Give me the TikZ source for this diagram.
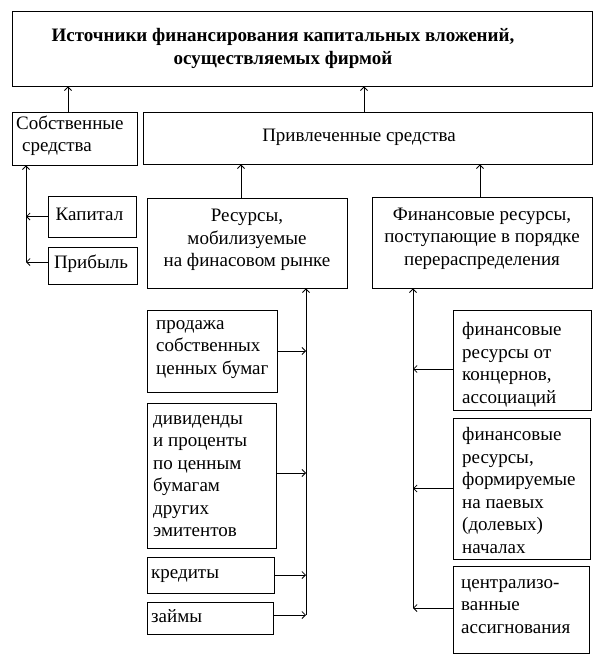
\documentclass[tikz,border=0pt]{standalone}
\usepackage{fontspec}
\setmainfont{Liberation Serif}
\usetikzlibrary{arrows.meta,fit}
\begin{document}
\begin{tikzpicture}[x=1pt,y=-1pt,
  box/.style={draw,line width=0.9pt,inner sep=0pt},
  txt/.style={inner sep=0pt,font=\fontsize{19}{22.5}\selectfont},
  ttl/.style={inner sep=0pt,align=center,font=\bfseries\fontsize{19}{23}\selectfont},
  arr/.style={line width=0.8pt,-{Straight Barb[length=3.5pt,width=7pt]}}]
\useasboundingbox[fill=white] (0,0) rectangle (605,663);
% boxes
\node[box,fit={(12,11) (592,86)}] (title) {};
\node[box,fit={(12,112) (137,165)}] (sob) {};
\node[box,fit={(143,112) (592,164)}] (priv) {};
\node[box,fit={(48,196) (136,237)}] (kap) {};
\node[box,fit={(48,247) (137,284)}] (prib) {};
\node[box,fit={(147,198) (347,288)}] (res) {};
\node[box,fit={(372,197) (592,288)}] (fin) {};
\node[box,fit={(147,310) (277,392)}] (prod) {};
\node[box,fit={(147,403) (276,548)}] (div) {};
\node[box,fit={(147,557) (274,593)}] (kred) {};
\node[box,fit={(147,602) (273,634)}] (zaim) {};
\node[box,fit={(453,310) (591,410)}] (fk) {};
\node[box,fit={(453,418) (590,559)}] (fp) {};
\node[box,fit={(453,566) (589,653)}] (ca) {};
% texts
\node[ttl] (titletxt) at (283,48.5) {Источники финансирования капитальных вложений,\\осуществляемых фирмой};
\node[txt,anchor=west,align=left] (sobtxt) at (16,135.5) {Собственные\\\hspace*{6pt}средства};
\node[txt] (privtxt) at (359,137) {Привлеченные средства};
\node[txt] (kaptxt) at (89.5,214) {Капитал};
\node[txt] (pribtxt) at (91,264) {Прибыль};
\node[txt,align=center] (restxt) at (247,240) {Ресурсы,\\мобилизуемые\\на финасовом рынке};
\node[txt,align=center] (fintxt) at (482,238.5) {Финансовые ресурсы,\\поступающие в порядке\\перераспределения};
\node[txt,anchor=west,align=left] (prodtxt) at (156,349.5) {продажа\\собственных\\ценных бумаг};
\node[txt,anchor=west,align=left] (divtxt) at (153,476) {дивиденды\\и проценты\\по ценным\\бумагам\\других\\эмитентов};
\node[txt,anchor=west] (kredtxt) at (151,576) {кредиты};
\node[txt,anchor=west] (zaimtxt) at (151,616) {займы};
\node[txt,anchor=west,align=left] (fktxt) at (462,364.5) {финансовые\\ресурсы от\\концернов,\\ассоциаций};
\node[txt,anchor=west,align=left] (fptxt) at (462,490.5) {финансовые\\ресурсы,\\формируемые\\на паевых\\(долевых)\\началах};
\node[txt,anchor=west,align=left] (catxt) at (461,606.5) {централизо-\\ванные\\ассигнования};
% connectors
\draw[arr] ([xshift=-6.5pt]sob.north) -- ([xshift=-6.5pt]sob.north |- title.south);
\draw[arr] ([xshift=-3.5pt]priv.north) -- ([xshift=-3.5pt]priv.north |- title.south);
\draw[arr] ([xshift=-6pt]res.north) -- ([xshift=-6pt]res.north |- priv.south);
\draw[arr] ([xshift=-2pt]fin.north) -- ([xshift=-2pt]fin.north |- priv.south);
\coordinate (ls) at (26,262);
\draw[arr] (ls) -- (ls |- sob.south);
\draw[arr] (kap.west) -- (kap.west -| ls);
\draw[arr] ([yshift=3.5pt]prib.west) -- ([yshift=3.5pt]prib.west -| ls);
\coordinate (ms) at (306,615);
\draw[arr] (ms) -- (ms |- res.south);
\draw[arr] (prod.east) -- (prod.east -| ms);
\draw[arr] ([yshift=2.5pt]div.east) -- ([yshift=2.5pt]div.east -| ms);
\draw[arr] (kred.east) -- (kred.east -| ms);
\draw[arr] ([yshift=3pt]zaim.east) -- ([yshift=3pt]zaim.east -| ms);
\coordinate (rs) at (413,608);
\draw[arr] (rs) -- (rs |- fin.south);
\draw[arr] ([yshift=-9pt]fk.west) -- ([yshift=-9pt]fk.west -| rs);
\draw[arr] (fp.west) -- (fp.west -| rs);
\draw[arr] ([yshift=1.5pt]ca.west) -- ([yshift=1.5pt]ca.west -| rs);
\end{tikzpicture}
\end{document}
